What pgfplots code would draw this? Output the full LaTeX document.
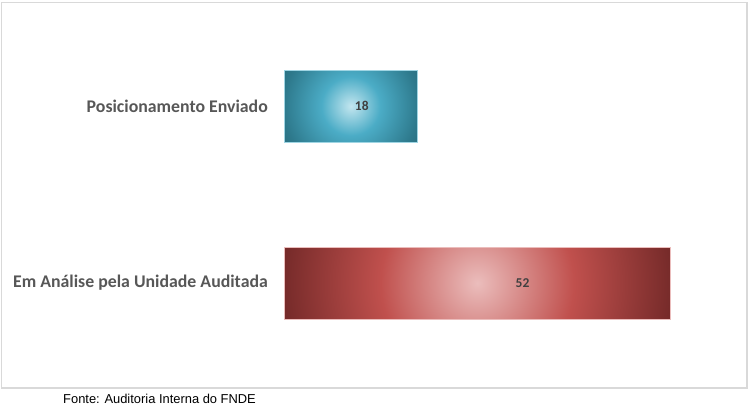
\documentclass[border=0pt]{standalone}
\usepackage{pgfplots}
\pgfplotsset{compat=1.18}
\usepackage{fontspec}
\setmainfont{Carlito}
\newfontfamily\arialfont{Liberation Sans}
\usetikzlibrary{calc}

\definecolor{labelgray}{HTML}{575757}
\definecolor{valgray}{HTML}{404040}
\definecolor{framegray}{HTML}{D9D9D9}
\definecolor{redc}{HTML}{EBBDBC}
\definecolor{redm}{HTML}{C0504D}
\definecolor{redd}{HTML}{772B2A}
\definecolor{tealc}{HTML}{C3E6EF}
\definecolor{tealm}{HTML}{4BACC6}
\definecolor{teald}{HTML}{2E7A8D}

\pgfdeclareradialshading{redbar}{\pgfpoint{0bp}{0bp}}{color(0bp)=(redc); color(12.5bp)=(redm); color(25bp)=(redd); color(50bp)=(redd)}
\pgfdeclareradialshading{tealbar}{\pgfpoint{0bp}{0bp}}{color(0bp)=(tealc); color(11bp)=(tealm); color(25bp)=(teald); color(32bp)=(teald!85!black); color(50bp)=(teald!85!black)}

% circular gradient whose radius is half the bar's width
\tikzset{
  round shade/.style={path picture={
    \shade[path picture={}, draw=none, shading=#1] let \p1=(path picture bounding box.south west),
      \p2=(path picture bounding box.north east), \n1={(\x2-\x1)/2} in
      (path picture bounding box.center) ++(-\n1,-\n1) rectangle ++(2*\n1,2*\n1);
  }},
}

\begin{document}
\begin{tikzpicture}
\useasboundingbox (0bp,0bp) rectangle (750bp,-409bp);
\draw[framegray, line width=1.5bp] (1.5bp,-2.5bp) rectangle (747bp,-388bp);
\begin{axis}[
  at={(284bp,-371.5bp)}, anchor=south west,
  scale only axis, width=446bp, height=354bp,
  xbar, bar width=72bp, bar shift=0pt,
  xmin=0, xmax=60, ymin=-0.5, ymax=1.5,
  axis line style={draw=none}, major tick length=0pt,
  xtick=\empty, ytick={0,1},
  yticklabels={Em Análise pela Unidade Auditada, Posicionamento Enviado},
  yticklabel style={font=\fontsize{17.8bp}{21bp}\selectfont\bfseries, text=labelgray, inner sep=0pt, xshift=-16bp},
  every node near coord/.append style={font=\fontsize{13.5bp}{15bp}\selectfont\bfseries, text=valgray, anchor=center},
  clip=false,
]
\addplot[draw=redc, line width=0.6bp, fill=redm, round shade=redbar] coordinates {(52,0)};
\addplot[draw=tealc!70!tealm, line width=0.6bp, fill=tealm, round shade=tealbar] coordinates {(18,1)};
% value labels
\addplot[draw=none, fill=none,
  nodes near coords={\pgfmathprintnumber[assume math mode=true]{\pgfplotspointmeta}},
  every node near coord/.append style={xshift=-148bp}] coordinates {(52,0)};
\addplot[draw=none, fill=none,
  nodes near coords={\pgfmathprintnumber[assume math mode=true]{\pgfplotspointmeta}},
  every node near coord/.append style={xshift=-56bp}] coordinates {(18,1)};
\end{axis}
\node[anchor=base west, font=\arialfont\fontsize{12.9bp}{15bp}\selectfont, inner sep=0pt] at (63bp,-403bp) {Fonte: Auditoria Interna do FNDE};
\end{tikzpicture}
\end{document}
